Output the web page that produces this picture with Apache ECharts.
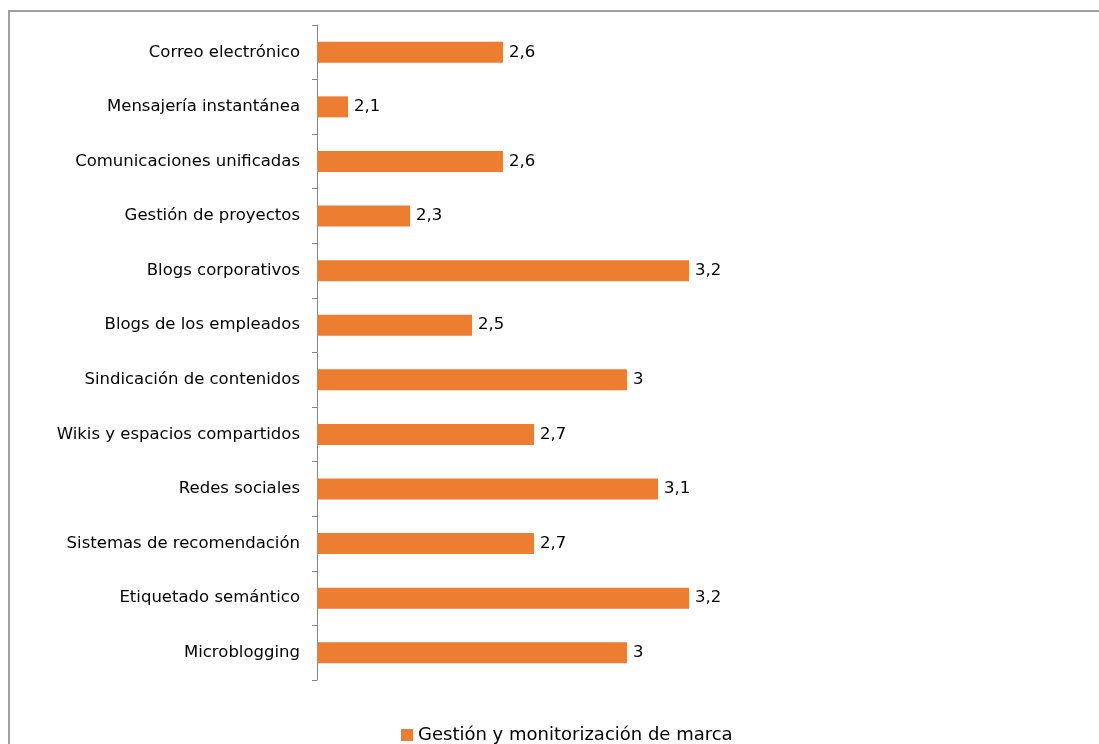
<!DOCTYPE html>
<html>
<head>
<meta charset="utf-8">
<script src="https://cdn.jsdelivr.net/npm/echarts@6/dist/echarts.min.js"></script>
<style>
html, body { margin: 0; padding: 0; background: #fff; }
#main { width: 1099px; height: 744px; }
</style>
</head>
<body>
<div id="main"></div>
<script>
// categorias de arriba hacia abajo
var categorias = [
    'Correo electrónico',
    'Mensajería instantánea',
    'Comunicaciones unificadas',
    'Gestión de proyectos',
    'Blogs corporativos',
    'Blogs de los empleados',
    'Sindicación de contenidos',
    'Wikis y espacios compartidos',
    'Redes sociales',
    'Sistemas de recomendación',
    'Etiquetado semántico',
    'Microblogging'
];
var valores = [2.6, 2.1, 2.6, 2.3, 3.2, 2.5, 3, 2.7, 3.1, 2.7, 3.2, 3];
var nombreSerie = 'Gestión y monitorización de marca';

var fuente = 'DejaVu Sans';
var tam = 16.5;
var chart = echarts.init(document.getElementById('main'));

var option = {
    animation: false,
    textStyle: { fontFamily: fuente },
    graphic: [
        {
            type: 'rect',
            shape: { x: 9, y: 11, width: 1200, height: 900 },
            style: { fill: 'none', stroke: '#a0a0a0', lineWidth: 2 },
            silent: true
        }
    ],
    legend: {
        data: [nombreSerie],
        left: 396,
        top: 721,
        icon: 'rect',
        itemWidth: 12,
        itemHeight: 12,
        itemGap: 6,
        textStyle: { fontFamily: fuente, fontSize: 18, color: '#000' }
    },
    grid: {
        left: 317,
        top: 25,
        width: 465,
        height: 655
    },
    xAxis: {
        type: 'value',
        min: 2,
        max: 3.5,
        show: false
    },
    yAxis: {
        type: 'category',
        data: categorias,
        inverse: true,
        axisLine: { show: true, lineStyle: { color: '#868686', width: 1 } },
        axisTick: { show: true, length: 5, lineStyle: { color: '#868686' } },
        axisLabel: {
            color: '#000',
            fontSize: tam,
            fontFamily: fuente,
            margin: 17,
            padding: [3, 0, 0, 0]
        }
    },
    series: [
        {
            name: nombreSerie,
            type: 'bar',
            data: valores,
            barWidth: 21,
            itemStyle: { color: '#ED7D31' },
            label: {
                show: true,
                position: 'right',
                distance: 6,
                color: '#000',
                fontSize: tam,
                fontFamily: fuente,
                padding: [3, 0, 0, 0],
                formatter: function (p) {
                    return String(p.value).replace('.', ',');
                }
            }
        }
    ]
};
chart.setOption(option);
</script>
</body>
</html>
